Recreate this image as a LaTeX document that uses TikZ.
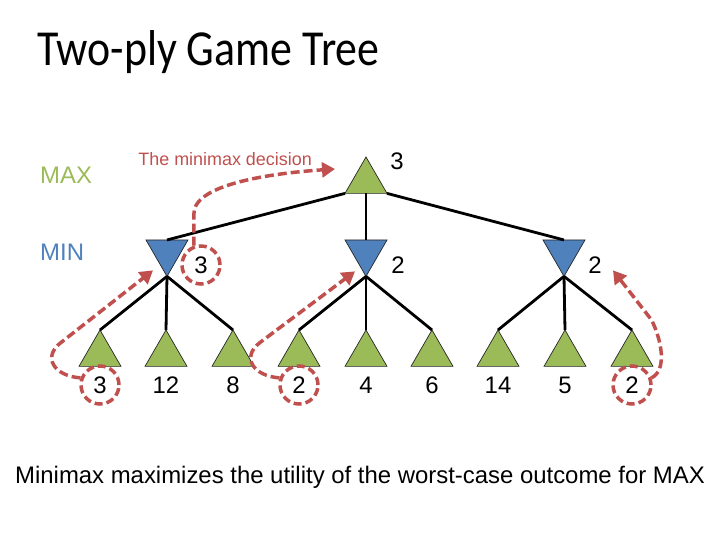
\documentclass[tikz,border=0pt]{standalone}
\usepackage{fontspec}
\newfontfamily\arialf{Liberation Sans}
\newfontfamily\titlef{Carlito}
\usetikzlibrary{shapes.geometric,arrows.meta,calc}
\definecolor{maxgreen}{RGB}{155,187,89}
\definecolor{minblue}{RGB}{79,129,189}
\definecolor{redline}{RGB}{192,80,77}
\tikzset{
  maxnode/.style={regular polygon,regular polygon sides=3,minimum size=48.5bp,inner sep=0pt,outer sep=0pt,fill=maxgreen,draw=black!85,line width=0.7bp},
  minnode/.style={regular polygon,regular polygon sides=3,shape border rotate=180,minimum size=48.5bp,inner sep=0pt,outer sep=0pt,fill=minblue,draw=black!85,line width=0.7bp},
  edge/.style={line width=2.8bp,black},
  val/.style={font=\arialf\fontsize{24}{28}\selectfont,inner sep=0pt},
  circ/.style={val,circle,minimum size=38bp,draw=redline,line width=3.5bp,dash pattern=on 8bp off 4bp},
  redarrow/.style={draw=redline,line width=3.5bp,dash pattern=on 9bp off 4bp,-{Triangle[length=13bp,width=15bp]}},
}
\begin{document}
\begin{tikzpicture}[x=1bp,y=-1bp]
\useasboundingbox (0,0) rectangle (720,540);
% title
\node[anchor=base west,inner sep=0pt,font=\titlef\fontsize{44}{50}\selectfont] (title) at (37,66) {\scalebox{1}[1.15]{Two-ply Game Tree}};
% level labels
\node[anchor=west,inner sep=0pt,text=maxgreen,font=\arialf\fontsize{24}{28}\selectfont] (maxlbl) at (40,175) {MAX};
\node[anchor=west,inner sep=0pt,text=minblue,font=\arialf\fontsize{24}{28}\selectfont] (minlbl) at (40,252) {MIN};
% tree nodes
\node[maxnode] (root) at (366,181.25) {};
\node[minnode] (lmin) at (167,252.1) {};
\node[minnode] (mmin) at (366,252.1) {};
\node[minnode] (rmin) at (564,252.1) {};
\foreach \n/\x in {l1/100,l2/166,l3/233,l4/299,l5/366,l6/432,l7/498,l8/565,l9/632}
  \node[maxnode] (\n) at (\x,354.25) {};
% edges
\draw[edge] (root.corner 2) -- ($(lmin.corner 2)!.5!(lmin.corner 3)$);
\draw[edge] ($(root.corner 2)!.5!(root.corner 3)$) -- ($(mmin.corner 2)!.5!(mmin.corner 3)$);
\draw[edge] (root.corner 3) -- ($(rmin.corner 2)!.5!(rmin.corner 3)$);
\foreach \m/\a/\b/\c in {lmin/l1/l2/l3,mmin/l4/l5/l6,rmin/l7/l8/l9}{
  \draw[edge] (\m.corner 1) -- (\a.corner 1);
  \draw[edge] (\m.corner 1) -- (\b.corner 1);
  \draw[edge] (\m.corner 1) -- (\c.corner 1);
}
% values
\node[val] (vroot) at (397,161) {3};
\node[circ] (vlmin) at (201,265) {3};
\node[val] (vmmin) at (398,265) {2};
\node[val] (vrmin) at (595,265) {2};
\node[circ] (v1) at (100,385) {3};
\node[val] (v2) at (166,385) {12};
\node[val] (v3) at (233,385) {8};
\node[circ] (v4) at (299,385) {2};
\node[val] (v5) at (366,385) {4};
\node[val] (v6) at (432,385) {6};
\node[val] (v7) at (498,385) {14};
\node[val] (v8) at (565,385) {5};
\node[circ] (v9) at (632,385) {2};
% decision label
\node[anchor=east,inner sep=0pt,text=redline,font=\arialf\fontsize{18}{21}\selectfont] (dec) at (312,159) {The minimax decision};
% red arrows
\coordinate (tipdec) at ($(root.corner 1)+(-31,12)$);
\coordinate (tip1) at ($(lmin.corner 1)+(-14,-6)$);
\coordinate (tip2) at ($(mmin.corner 1)+(-11,-5)$);
\coordinate (tip3) at ($(rmin.corner 1)+(49,-6)$);
\draw[redarrow] (vlmin.110) -- ++(0,-32) .. controls +(0,-30) and +(-60,4) .. (tipdec);
\draw[redarrow] (v1.160) .. controls +(-27,-2) and +(-18,14) .. ++(-20,-35) -- (tip1);
\draw[redarrow] (v4.160) .. controls +(-27,-2) and +(-18,14) .. ++(-20,-35) -- (tip2);
\draw[redarrow] (v9.20) .. controls +(16,-8) and +(10,20) .. ++(0,-58) -- (tip3);
% bottom caption
\node[anchor=base,inner sep=0pt,font=\arialf\fontsize{24}{28}\selectfont] (caption) at (360,483) {Minimax maximizes the utility of the worst-case outcome for MAX};
\end{tikzpicture}
\end{document}
